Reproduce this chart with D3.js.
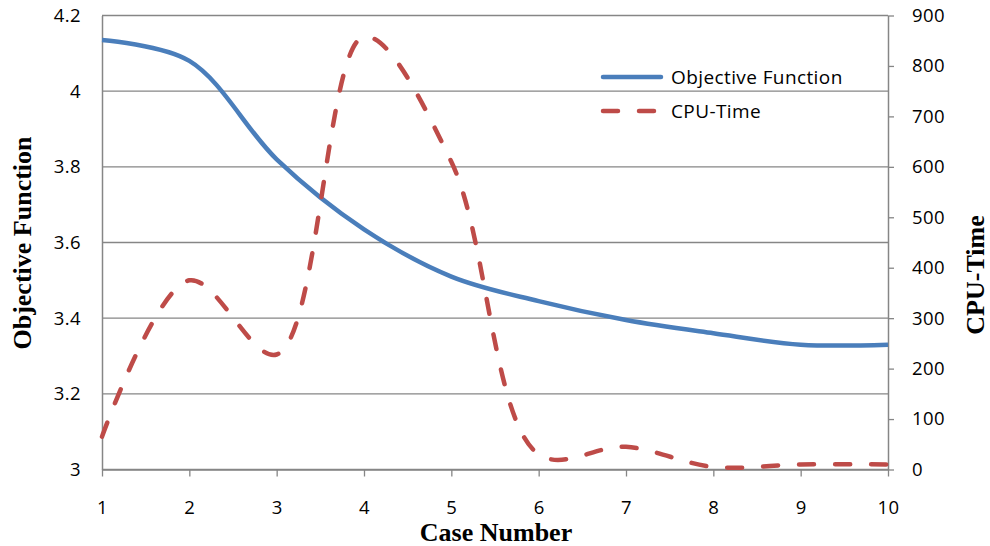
<!DOCTYPE html>
<html>
<head>
<meta charset="utf-8">
<script src="https://cdn.jsdelivr.net/npm/d3@7"></script>
<style>
  html, body { margin: 0; padding: 0; background: #fff; }
  svg { display: block; }
  .tick-label { font-family: "Open Sans", "Noto Sans", sans-serif; font-size: 18.5px; letter-spacing: 0.4px; fill: #000; }
  .axis-title { font-family: "Liberation Serif", "DejaVu Serif", serif; font-weight: bold; font-size: 26px; fill: #000; }
  .legend-label { font-family: "Open Sans", "Noto Sans", sans-serif; font-size: 19px; letter-spacing: 0.4px; fill: #000; }
</style>
</head>
<body>
<svg id="chart" width="990" height="546"></svg>
<script>
// Case numbers on the x axis
const cases = [1, 2, 3, 4, 5, 6, 7, 8, 9, 10];
// Objective function value for each case (left axis)
const objective = [4.135, 4.08, 3.82, 3.635, 3.51, 3.445, 3.395, 3.36, 3.33, 3.33];
// CPU time for each case (right axis)
const cpuTime = [65, 375, 228, 858, 610, 30, 45, 5, 10, 10];
// Tick values
const leftTicks = [3, 3.2, 3.4, 3.6, 3.8, 4, 4.2];
const rightTicks = [0, 100, 200, 300, 400, 500, 600, 700, 800, 900];
const seriesNames = ["Objective Function", "CPU-Time"];

const svg = d3.select("#chart");
const plot = { left: 102, right: 888, top: 15.5, bottom: 469.5 };
const gridColor = "#868686";
const blue = "#4A7EBB";
const red = "#BE4B48";

const x = d3.scaleLinear().domain([1, 10]).range([plot.left, plot.right]);
const yLeft = d3.scaleLinear().domain([3, 4.2]).range([plot.bottom, plot.top]);
const yRight = d3.scaleLinear().domain([0, 900]).range([plot.bottom, plot.top]);

// Horizontal gridlines at the left-axis ticks
svg.append("g")
  .selectAll("line")
  .data(leftTicks)
  .join("line")
  .attr("x1", plot.left).attr("x2", plot.right)
  .attr("y1", d => yLeft(d)).attr("y2", d => yLeft(d))
  .attr("stroke", gridColor).attr("stroke-width", 1.3);

// Left axis: line and labels only
const leftAxis = svg.append("g")
  .attr("transform", `translate(${plot.left},0)`)
  .call(d3.axisLeft(yLeft).tickValues(leftTicks).tickSize(0).tickPadding(21)
    .tickFormat(d => d3.format("")(d)));
leftAxis.select(".domain").attr("stroke", gridColor).attr("stroke-width", 1.5);
leftAxis.selectAll("text").attr("class", "tick-label").attr("font-family", null).attr("font-size", null);

// Right axis with outward ticks
const rightAxis = svg.append("g")
  .attr("transform", `translate(${plot.right},0)`)
  .call(d3.axisRight(yRight).tickValues(rightTicks).tickSizeInner(6).tickSizeOuter(0).tickPadding(18));
rightAxis.select(".domain").attr("stroke", gridColor).attr("stroke-width", 1.5);
rightAxis.selectAll(".tick line").attr("stroke", gridColor).attr("stroke-width", 1.3);
rightAxis.selectAll("text").attr("class", "tick-label").attr("font-family", null).attr("font-size", null);

// Bottom axis
const bottomAxis = svg.append("g")
  .attr("transform", `translate(0,${plot.bottom})`)
  .call(d3.axisBottom(x).tickValues(cases).tickSizeInner(7).tickSizeOuter(0).tickPadding(24)
    .tickFormat(d3.format("d")));
bottomAxis.select(".domain").attr("stroke", gridColor).attr("stroke-width", 1.5);
bottomAxis.selectAll(".tick line").attr("stroke", gridColor).attr("stroke-width", 1.3);
bottomAxis.selectAll("text").attr("class", "tick-label").attr("font-family", null).attr("font-size", null);

// Smoothed series lines
const objLine = d3.line()
  .x((d, i) => x(cases[i]))
  .y(d => yLeft(d))
  .curve(d3.curveCatmullRom.alpha(0.5));
const cpuLine = d3.line()
  .x((d, i) => x(cases[i]))
  .y(d => yRight(d))
  .curve(d3.curveCatmullRom.alpha(0.5));

svg.append("path")
  .datum(objective)
  .attr("d", objLine)
  .attr("fill", "none")
  .attr("stroke", blue)
  .attr("stroke-width", 4.5)
  .attr("stroke-linejoin", "round");

svg.append("path")
  .datum(cpuTime)
  .attr("d", cpuLine)
  .attr("fill", "none")
  .attr("stroke", red)
  .attr("stroke-width", 4.5)
  .attr("stroke-linecap", "round")
  .attr("stroke-dasharray", "15 21");

// Axis titles
svg.append("text")
  .attr("class", "axis-title")
  .attr("text-anchor", "middle")
  .attr("transform", `translate(31,243) rotate(-90)`)
  .text("Objective Function");
svg.append("text")
  .attr("class", "axis-title")
  .attr("text-anchor", "middle")
  .attr("transform", `translate(984,275) rotate(-90)`)
  .text("CPU-Time");
svg.append("text")
  .attr("class", "axis-title")
  .attr("text-anchor", "middle")
  .attr("x", 496).attr("y", 541)
  .text("Case Number");

// Legend
const legend = svg.append("g");
const legendRows = [
  { name: seriesNames[0], color: blue, dash: null, y: 77 },
  { name: seriesNames[1], color: red, dash: "15 21", y: 111 }
];
legendRows.forEach(r => {
  legend.append("line")
    .attr("x1", 603).attr("x2", 661)
    .attr("y1", r.y).attr("y2", r.y)
    .attr("stroke", r.color).attr("stroke-width", 4.5)
    .attr("stroke-linecap", "round")
    .attr("stroke-dasharray", r.dash);
  legend.append("text")
    .attr("class", "legend-label")
    .attr("x", 671).attr("y", r.y)
    .attr("dy", "0.35em")
    .text(r.name);
});
</script>
</body>
</html>
